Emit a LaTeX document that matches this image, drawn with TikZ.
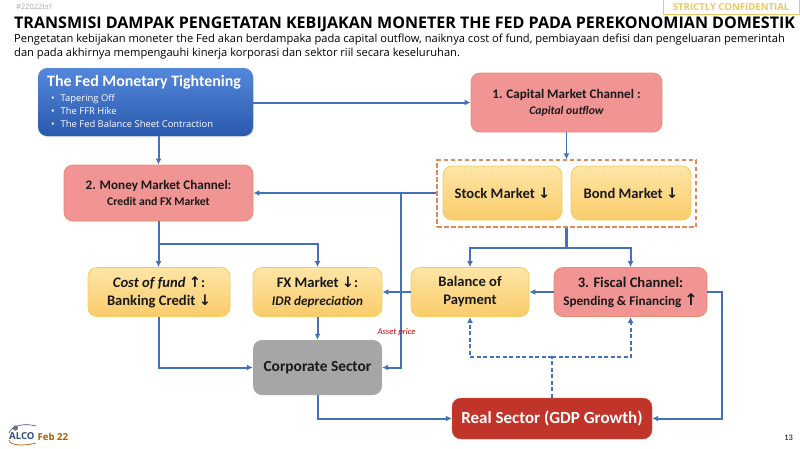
\documentclass[tikz,border=0pt]{standalone}
\usepackage{fontspec}
\setmainfont{Carlito}
\newfontfamily\headfont{Open Sans}
\newfontfamily\arrowfont{DejaVu Sans}
\usetikzlibrary{arrows.meta,shadows,calc}
\definecolor{lineblue}{HTML}{4472B8}
\definecolor{redfill}{HTML}{F09494}
\definecolor{rededge}{HTML}{EE8A6E}
\definecolor{yeledge}{HTML}{F2CE62}
\definecolor{dashor}{HTML}{E0895A}
\definecolor{realred}{HTML}{C0342A}
\definecolor{conf}{HTML}{EFC75E}
\definecolor{yelT}{HTML}{FFE5A6}
\definecolor{yelB}{HTML}{F9CC6A}
\definecolor{fedT}{HTML}{5488DC}
\definecolor{fedB}{HTML}{2A58AC}
\newcommand{\dnarrow}{{\arrowfont\bfseries ↓}}
\tikzset{
  x=1pt,y=-1pt,
  box/.style={rounded corners=9pt,inner sep=0pt,align=center,font=\bfseries,text=black!90,
    minimum width=#1},
  redbox/.style={box=#1,draw=rededge,line width=0.8pt,fill=redfill},
  yelbox/.style={box=#1,draw=yeledge,line width=0.8pt,top color=yelT,bottom color=yelB},
  link/.style={draw=lineblue,line width=2pt,-{Latex[length=6pt,width=6pt]}},
  thinlink/.style={draw=lineblue,line width=1.3pt,-{Latex[length=6pt,width=6pt]}},
  plainlink/.style={draw=lineblue,line width=2.2pt},
  dashlink/.style={draw=lineblue,line width=2pt,dash pattern=on 4pt off 2.5pt},
  dashstem/.style={draw=lineblue,line width=2.6pt,dash pattern=on 4pt off 2.5pt},
}
\begin{document}
\begin{tikzpicture}
\useasboundingbox (0,0) rectangle (800,448);
% header
\node[anchor=west,inner sep=0,font=\headfont\fontsize{7.5}{8}\selectfont,text=black!35] (tag) at (16,6.5) {\#22022ts1};
\node[anchor=north east,draw=conf,line width=0.8pt,fill=white,minimum width=136pt,minimum height=15pt,inner sep=0,
  font=\headfont\bfseries\fontsize{9.6}{12}\selectfont,text=conf] (confid) at (799.5,-1) {STRICTLY CONFIDENTIAL};
\node[anchor=west,inner sep=0,font=\headfont\bfseries\fontsize{16.05}{18}\selectfont] (title) at (14,24.5)
  {TRANSMISI DAMPAK PENGETATAN KEBIJAKAN MONETER THE FED PADA PEREKONOMIAN DOMESTIK};
\node[anchor=north west,inner sep=0,align=left,font=\headfont\fontsize{11.13}{14.4}\selectfont] (sub) at (14,33.5)
  {Pengetatan kebijakan moneter the Fed akan berdampaka pada capital outflow, naiknya cost of fund, pembiayaan defisi dan pengeluaran pemerintah\\
   dan pada akhirnya mempengauhi kinerja korporasi dan sektor riil secara keseluruhan.};
% boxes
\node[rounded corners=9pt,minimum width=215pt,minimum height=68pt,inner sep=0,top color=fedT,bottom color=fedB,
  drop shadow={opacity=0.25,shadow xshift=0.8pt,shadow yshift=-1pt}] (fed) at (145.5,102) {};
\node[anchor=west,inner sep=0,text=white,font=\bfseries\fontsize{15.9}{17}\selectfont] (fedhead) at (47,82.5) {The Fed Monetary Tightening};
\node[anchor=north west,inner sep=0,text=white,align=left,font=\headfont\fontsize{9.4}{12.6}\selectfont] (fedlist) at (51,94.5)
  {•\hspace{6pt}Tapering Off\\ •\hspace{6pt}The FFR Hike\\ •\hspace{6pt}The Fed Balance Sheet Contraction};

\node[redbox=191pt,minimum height=59pt,font=\bfseries\fontsize{13.1}{17}\selectfont] (cap) at (566.5,102.5)
  {1. Capital Market Channel :\\[-1pt]{\fontsize{11.7}{13}\selectfont\itshape Capital outflow}};
\node[redbox=189pt,minimum height=56pt,font=\bfseries\fontsize{13.1}{15.5}\selectfont] (money) at (158.5,193)
  {2. Money Market Channel:\\{\fontsize{11.7}{13}\selectfont Credit and FX Market}};
\node[draw=dashor,line width=1.4pt,dash pattern=on 4.5pt off 2.5pt,minimum width=259pt,minimum height=67pt,inner sep=0] (group) at (566.5,193.5) {};
\node[yelbox=119pt,minimum height=54pt,font=\bfseries\fontsize{14.6}{17}\selectfont] (stock) at (502.5,193) {Stock Market \dnarrow};
\node[yelbox=120pt,minimum height=54pt,font=\bfseries\fontsize{14.6}{17}\selectfont] (bond) at (631,193) {Bond Market \dnarrow};
\node[yelbox=142pt,minimum height=49pt,font=\bfseries\fontsize{14.6}{18}\selectfont] (cost) at (159,292)
  {\textit{Cost of fund} {\arrowfont\bfseries\itshape ↑}:\\Banking Credit \dnarrow};
\node[yelbox=129pt,minimum height=49pt,font=\bfseries\fontsize{14.6}{18}\selectfont] (fx) at (317.5,292)
  {FX Market \dnarrow:\\{\fontsize{13.2}{15}\selectfont\itshape IDR depreciation}};
\node[yelbox=118pt,minimum height=49pt,font=\bfseries\fontsize{14.6}{18}\selectfont] (bop) at (470,292) {Balance of\\Payment};
\node[redbox=153pt,minimum height=49pt,font=\bfseries\fontsize{14.6}{18}\selectfont] (fiscal) at (630.5,292)
  {3. Fiscal Channel:\\{\fontsize{13.2}{15}\selectfont Spending \& Financing {\arrowfont\bfseries\fontsize{16}{15}\selectfont ↑}}};
\node[box=129pt,minimum height=55pt,fill=black!35,font=\bfseries\fontsize{15.4}{18}\selectfont] (corp) at (317.5,367.5) {\raisebox{-1.5pt}{Corporate Sector}};
\node[box=200pt,minimum height=41pt,fill=realred,draw=realred!80!white,text=white,font=\bfseries\fontsize{17}{20}\selectfont] (real) at (552,418.5) {\raisebox{-1pt}{Real Sector (GDP Growth)}};
% connectors
\coordinate (fedout) at (fed.east|-cap.west);
\draw[link] (fedout) -- (cap.west);
\draw[thinlink] (cap.south) -- (group.north);
\draw[link] (fed.south-|money.north) -- (money.north);
\draw[link] (group.west|-money.east) -- (money.east);
\coordinate (assetbranch) at (401,193);
\draw[link] (assetbranch) |- (corp.east);
\draw[link] (money.south) -- (money.south|-cost.north);
\coordinate (moneybranch) at ($(money.south)+(0,23)$);
\draw[link] (moneybranch) -| (fx.north);
\coordinate (groupbranch) at ($(group.south)+(0,20)$);
\draw[plainlink] (group.south) -- (groupbranch);
\draw[link] (groupbranch) -| (bop.north);
\draw[link] (groupbranch) -| (fiscal.north);
\draw[thinlink] (bop.west) -- (fx.east);
\draw[thinlink] (fiscal.west) -- (bop.east);
\coordinate (fiscalright) at ($(fiscal.east)+(15,0)$);
\draw[link] (fiscal.east) -- (fiscalright) |- (real.east);
\coordinate (costdown) at (cost.south-|money.south);
\draw[link] (costdown) |- (corp.west);
\draw[link] (fx.south) -- (corp.north);
\draw[link] (corp.south) |- (real.west);
\coordinate (dashbranch) at (real.north|-0,357);
\draw[dashstem] (real.north) -- (dashbranch);
\draw[dashlink,-{Latex[length=6pt,width=6pt]}] (dashbranch) -| (bop.south);
\draw[dashlink,-{Latex[length=6pt,width=6pt]}] (dashbranch) -| (fiscal.south);
% labels and footer
\node[inner sep=0,font=\itshape\fontsize{8.7}{9}\selectfont,text=red!75!black] (asset) at (396.5,332.5) {Asset price};
\node[anchor=west,inner sep=0,font=\headfont\bfseries\fontsize{9.6}{10}\selectfont,text=lineblue!70!black] (alco) at (9,436.5) {ALCO};
\node[anchor=west,inner sep=0,font=\headfont\bfseries\fontsize{9.6}{10}\selectfont,text=orange!70!black] (feb) at (37.5,436.5) {Feb 22};
\draw[draw=lineblue!70!black,line width=0.6pt] (alco.north west) .. controls (12,425) and (25,423) .. (36,426);
\draw[draw=orange!70!black,line width=0.7pt] (alco.south west) .. controls (10,446) and (25,446) .. (36,443);
\fill[black!55] (15.5,428) circle (2.6pt);
\node[inner sep=0,font=\fontsize{8.4}{10}\selectfont] (page) at (788.5,437.5) {13};
\end{tikzpicture}
\end{document}
